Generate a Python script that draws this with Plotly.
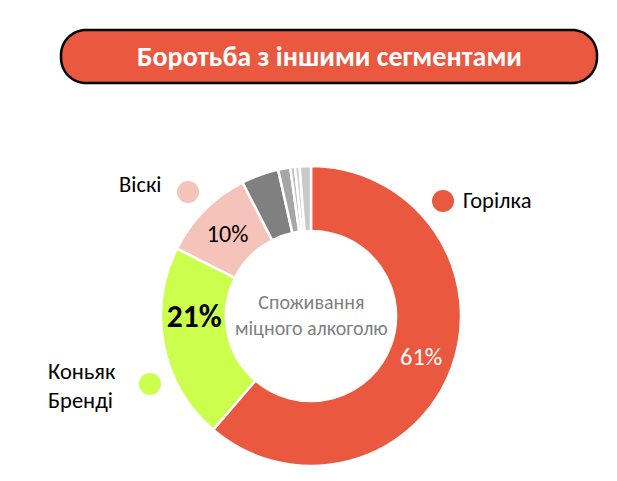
import plotly.graph_objects as go
import math

W, H = 617, 481

# ---- data ----
labels = ["Горілка", "Коньяк Бренді", "Віскі", "Інше 1", "Інше 2", "Інше 3", "Інше 4", "Інше 5"]
values = [61, 21, 10, 4.0, 1.3, 0.5, 0.5, 1.2]
colors = ["#E9583F", "#CCFF4D", "#F6C3BA", "#808080", "#A6A6A6", "#BFBFBF", "#D0D0D0", "#C9C9C9"]
texts = ["61%", "<b>21%</b>", "10%", "", "", "", "", ""]
text_colors = ["white", "black", "black", "black", "black", "black", "black", "black"]
text_sizes = [24.5, 31.5, 24, 10, 10, 10, 10, 10]
title_text = "Боротьба з іншими сегментами"
center_text = "Споживання<br>міцного алкоголю"

FONT = "Carlito, Lato, sans-serif"

def px(x):
    return x / W

def py(y):
    return 1 - y / H

cx, cy, R = 311, 316, 150

fig = go.Figure()
fig.add_trace(go.Pie(
    labels=labels, values=values, sort=False, direction="clockwise", rotation=0,
    hole=0.567,
    marker=dict(colors=colors, line=dict(color="white", width=2.5)),
    text=texts, texttemplate="%{text}", textposition="inside",
    insidetextorientation="horizontal",
    textfont=dict(color=text_colors, size=text_sizes, family=FONT),
    domain=dict(x=[px(cx - R), px(cx + R)], y=[py(cy + R), py(cy - R)]),
    showlegend=False, hoverinfo="label+percent",
))

# ---- title box (rounded rectangle) ----
x0, x1, y0, y1, r = 61, 597, 30, 83, 25
pts = []
def arc(cxp, cyp, a0, a1, n=16):
    for i in range(n + 1):
        a = math.radians(a0 + (a1 - a0) * i / n)
        pts.append((cxp + r * math.cos(a), cyp + r * math.sin(a)))
arc(x1 - r, y0 + r, -90, 0)
arc(x1 - r, y1 - r, 0, 90)
arc(x0 + r, y1 - r, 90, 180)
arc(x0 + r, y0 + r, 180, 270)
path = "M " + " L ".join(f"{px(a):.5f},{py(b):.5f}" for a, b in pts) + " Z"
shapes = [dict(type="path", path=path, xref="paper", yref="paper",
               fillcolor="#E9583F", line=dict(color="black", width=2.5))]

annotations = [
    dict(text=f"<b>{title_text}</b>", x=px(330), y=py(57), xref="paper", yref="paper",
         showarrow=False, font=dict(size=28, color="white", family=FONT),
         xanchor="center", yanchor="middle"),
    dict(text=center_text, x=px(cx), y=py(cy - 1), xref="paper", yref="paper",
         showarrow=False, font=dict(size=20, color="#808080", family=FONT),
         xanchor="center", yanchor="middle", align="center"),
]

# ---- legend-like labels with circle markers ----
legend_items = [
    (0, (443, 201), 11, "Горілка", 461, 201, "left"),
    (2, (188, 192), 11, "Віскі", 164, 184, "right"),
    (1, (150, 384), 11, "Коньяк<br>Бренді", 46, 386, "left"),
]
for ci, (mx, my), mr, lab, lx, ly, anc in legend_items:
    shapes.append(dict(type="circle", xref="paper", yref="paper",
                       x0=px(mx - mr), x1=px(mx + mr), y0=py(my + mr), y1=py(my - mr),
                       fillcolor=colors[ci], line=dict(width=0)))
    annotations.append(dict(text=lab, x=px(lx), y=py(ly), xref="paper", yref="paper",
                            showarrow=False, font=dict(size=22.5, color="black", family=FONT),
                            xanchor=anc, yanchor="middle", align="left"))

fig.update_layout(
    width=W, height=H, margin=dict(l=0, r=0, t=0, b=0),
    paper_bgcolor="white", plot_bgcolor="white",
    shapes=shapes, annotations=annotations,
    uniformtext=dict(mode=False),
)
fig.write_html("out.html", config={"displayModeBar": False},
               post_script="document.body.style.margin='0';document.body.style.overflow='hidden';")
